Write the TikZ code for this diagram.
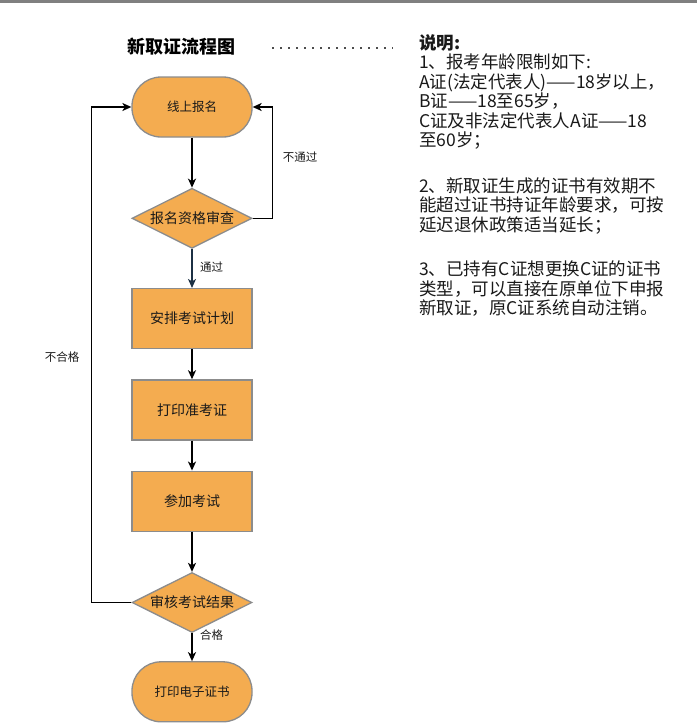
\documentclass[tikz,border=0pt]{standalone}
\usepackage{fontspec}
\setmainfont{Noto Sans CJK SC}
\usetikzlibrary{shapes.geometric, arrows.meta, positioning}
\definecolor{flowfill}{RGB}{244,172,80}
\definecolor{flowedge}{RGB}{140,140,140}
\definecolor{navyline}{RGB}{28,48,68}
\definecolor{bargray}{RGB}{128,128,128}
\definecolor{inkgray}{RGB}{25,25,25}

\begin{document}
\begin{tikzpicture}[
        x=1pt, y=-1pt,
        node distance=30pt,
        term/.style={rectangle, rounded corners=29pt, draw=flowedge, line width=1.3pt, fill=flowfill, minimum width=120pt, minimum height=60pt, inner sep=0pt, text=inkgray, font=\fontsize{12.5}{14}\selectfont},
        task/.style={rectangle, draw=flowedge, line width=1.3pt, fill=flowfill, minimum width=120pt, minimum height=60pt, inner sep=0pt, text=inkgray, font=\fontsize{14}{16}\selectfont},
        check/.style={diamond, aspect=2, draw=flowedge, line width=1.3pt, fill=flowfill, minimum width=120pt, minimum height=60pt, inner sep=0pt, text=inkgray, font=\fontsize{14}{16}\selectfont},
        flow/.style={-{Stealth[length=9pt, width=8pt, inset=2.5pt]}, line width=1.6pt, black},
        lbl/.style={inner sep=0pt, text=inkgray, font=\fontsize{11.5}{13}\selectfont},
        dotrule/.style={line width=1.5pt, dash pattern=on 1.5pt off 6.5pt, color=black!70}
    ]
        \useasboundingbox (0,0) rectangle (697,725);
        \fill[bargray] (0,0) rectangle (697,2.7);

        % title and notes
        \node[inner sep=0pt, font=\bfseries\fontsize{18}{20}\selectfont] (title) at (181.5,47) {新取证流程图};
        \coordinate (dotstart) at (272,48);
        \coordinate (dotend) at (393,48);
        \draw[dotrule] (dotstart) -- (dotend);
        \node[anchor=north west, inner sep=0pt, align=left, text=inkgray, font=\fontsize{17.5}{19.5}\selectfont] (notes) at (419,34)
            {\textbf{说明:}\\
             1、报考年龄限制如下:\\
             A证(法定代表人)——18岁以上，\\
             B证——18至65岁，\\
             C证及非法定代表人A证——18\\
             至60岁；\\[26pt]
             2、新取证生成的证书有效期不\\
             能超过证书持证年龄要求，可按\\
             延迟退休政策适当延长；\\[25pt]
             3、已持有C证想更换C证的证书\\
             类型，可以直接在原单位下申报\\
             新取证，原C证系统自动注销。};

        % flow chart
        \node[term] (signup) at (192,107) {线上报名};
        \node[check, below=50pt of signup] (review) {报名资格审查};
        \node[task, below=39pt of review] (plan) {安排考试计划};
        \node[task, below=of plan] (ticket) {打印准考证};
        \node[task, below=of ticket] (exam) {参加考试};
        \node[check, below=40pt of exam] (result) {审核考试结果};
        \node[term, below=28pt of result] (cert) {打印电子证书};

        \draw[flow] (signup) -- (review);
        \draw[flow, navyline] (review) -- (plan);
        \draw[flow] (plan) -- (ticket);
        \draw[flow] (ticket) -- (exam);
        \draw[flow] (exam) -- (result);
        \draw[flow] (result) -- (cert);
        \draw[flow] (review.east) -- ++(20,0) |- (signup.east);
        \draw[flow] (result.west) -- ++(-40,0) |- (signup.west);

        \node[lbl] (nopass) at (300,157) {不通过};
        \node[lbl] (pass) at (211.5,267) {通过};
        \node[lbl] (fail) at (62,357) {不合格};
        \node[lbl] (ok) at (211.5,635) {合格};
    \end{tikzpicture}
\end{document}
